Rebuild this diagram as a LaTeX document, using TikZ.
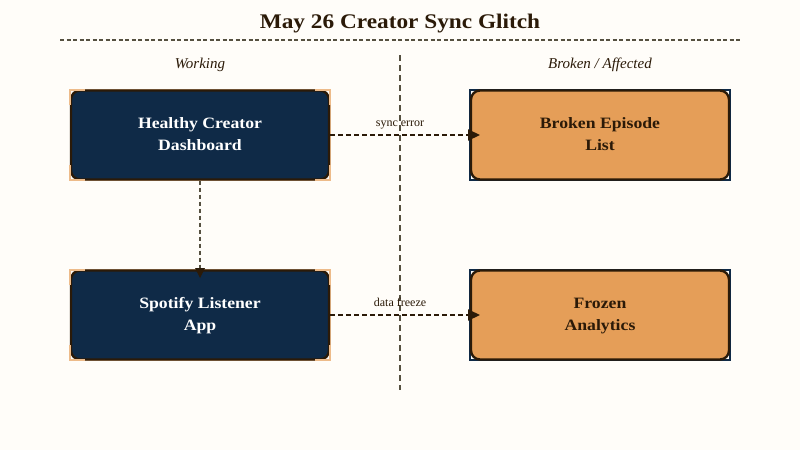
\documentclass[tikz,border=0pt]{standalone}
\usepackage{fontspec}
\setmainfont{Liberation Serif}[ItalicFont={Liberation Serif Italic},BoldFont={Liberation Serif Bold},BoldFeatures={FakeStretch=1.12}]
\usetikzlibrary{arrows.meta}
\definecolor{bgc}{HTML}{FFFDF9}
\definecolor{ink}{HTML}{2B1A08}
\definecolor{navy}{HTML}{0F2A47}
\definecolor{tan}{HTML}{E59E58}
\definecolor{rule}{HTML}{555040}
\tikzset{x=1pt,y=-1pt,
 darkbox/.style={draw=ink,line width=2.4pt,rounded corners=9pt,fill=navy,minimum width=258pt,minimum height=89pt,text=white,align=center,font=\fontsize{15.8}{22}\selectfont\bfseries,inner sep=0pt},
 lightbox/.style={darkbox,fill=tan,text=ink},
 tanframe/.style={draw=tan!70!white,line width=1pt},
 navyframe/.style={draw=navy,line width=1.4pt},
 tanbracket/.style={draw=tan!70!white,line width=1.7pt},
 header/.style={font=\fontsize{15}{16}\selectfont\itshape,text=ink,inner sep=0pt,anchor=base},
 edgelabel/.style={font=\fontsize{12}{14}\selectfont,text=ink,inner sep=0pt,anchor=base},
 flow/.style={draw=ink,line width=2pt,dash pattern=on 5pt off 3pt,-{Triangle[length=12pt,width=11pt]}},
 flowthin/.style={draw=rule,line width=1.6pt,dash pattern=on 4pt off 3pt},
 divider/.style={draw=rule,line width=1.6pt,dash pattern=on 6pt off 4pt}}
\begin{document}
\begin{tikzpicture}
\useasboundingbox[fill=bgc] (0,0) rectangle (800,450);
\node[font=\fontsize{20.8}{26}\selectfont\bfseries,text=ink,inner sep=0pt,anchor=base] (title) at (400,28) {May 26 Creator Sync Glitch};
\coordinate (ruleL) at (60,40); \coordinate (ruleR) at (740,40);
\draw[flowthin,dash pattern=on 4pt off 2.5pt] (ruleL) -- (ruleR);
\coordinate (divT) at (400,55); \coordinate (divB) at (400,390);
\draw[divider] (divT) -- (divB);
\node[header] (hl) at (200,68) {Working};
\node[header] (hr) at (600,68) {Broken / Affected};
\draw[tanframe] (70,89.5) rectangle (330,180.5);
\draw[tanframe] (70,269.5) rectangle (330,360.5);
\draw[navyframe] (470,90) rectangle (730,180);
\draw[navyframe] (470,270) rectangle (730,360);
\node[darkbox] (a) at (200,135) {\strut Healthy Creator\\\strut Dashboard};
\node[darkbox] (b) at (200,315) {\strut Spotify Listener\\\strut App};
\node[lightbox] (c) at (600,135) {\strut Broken Episode\\\strut List};
\node[lightbox] (d) at (600,315) {\strut Frozen\\\strut Analytics};
\foreach \y in {90,270}{
 \draw[tanbracket] (70,\y+15) -- (70,\y) -- (85,\y);
 \draw[tanbracket] (315,\y) -- (330,\y) -- (330,\y+15);
 \draw[tanbracket] (70,\y+75) -- (70,\y+90) -- (85,\y+90);
 \draw[tanbracket] (315,\y+90) -- (330,\y+90) -- (330,\y+75);
}
\coordinate (cIn) at (480,135);
\coordinate (dIn) at (480,315);
\coordinate (bIn) at (200,278);
\draw[flow] (a.east) -- (cIn);
\draw[flow] (b.east) -- (dIn);
\draw[flowthin] (a.south) -- (200,268);
\fill[ink] (195,268) -- (205,268) -- (bIn) -- cycle;
\node[edgelabel] (l1) at (400,126) {sync error};
\node[edgelabel] (l2) at (400,306) {data freeze};
\end{tikzpicture}
\end{document}
